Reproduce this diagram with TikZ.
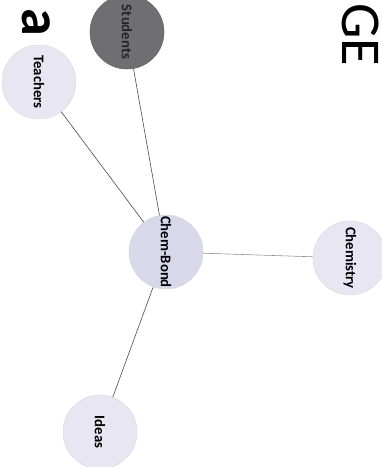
\documentclass[tikz,border=0pt]{standalone}
\usepackage{fontspec}
\setmainfont{Carlito}
\usepackage{tikz}
\usetikzlibrary{arrows.meta, positioning, calc}
\definecolor{lavender}{HTML}{E8E6F3}
\definecolor{hubfill}{HTML}{D9D7EA}
\definecolor{darkfill}{HTML}{6F6E72}
\tikzset{
  topic/.style={
    circle, draw=gray!25, fill=lavender, minimum size=18.5mm, inner sep=0pt,
    align=center, font=\fontsize{10.5}{12}\selectfont\bfseries, rotate=-90
  },
  hub/.style={topic, fill=hubfill, draw=gray!30},
  dark/.style={topic, fill=darkfill, draw=gray!80!black, text=black!85},
  link/.style={line width=0.4pt, draw=black!75},
  biglabel/.style={font=\fontsize{40}{44}\selectfont, rotate=-90, inner sep=0pt}
}

\begin{document}
\begin{tikzpicture}[x=0.25mm, y=-0.25mm]
    \useasboundingbox (0,0) rectangle (382,467);

    % Hub
    \node[hub] (bond) at (166,252) {Chem-Bond};

    % Topics
    \node[dark] (students) at (127,32) {Students};
    \node[topic] (teachers) at (39,82) {Teachers};
    \node[topic] (chem) at (350,258) {Chemistry};
    \node[topic] (ideas) at (100,432) {Ideas};

    % Links
    \draw[link] (teachers) -- (bond);
    \draw[link] (students) -- (bond);
    \draw[link, draw=black!45] (bond) -- (chem);
    \draw[link] (bond) -- (ideas);

    % Cut-off headings
    \node[biglabel, font=\fontsize{40}{44}\selectfont\bfseries] (lettera) at (36,22) {a};
    \node[biglabel, anchor=base west] (headge) at (342,3) {GE};

\end{tikzpicture}
\end{document}
